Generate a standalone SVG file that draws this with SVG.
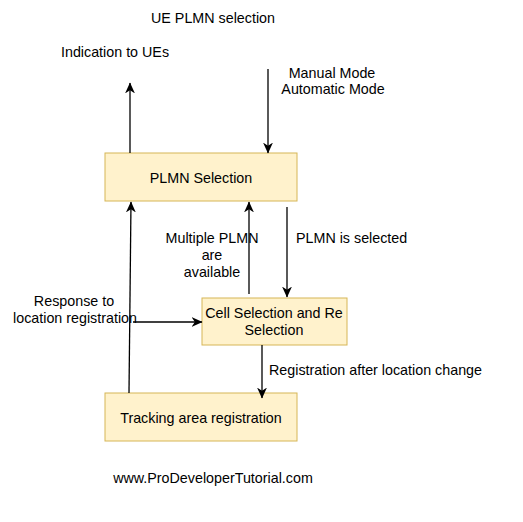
<svg xmlns="http://www.w3.org/2000/svg" width="523" height="522" viewBox="0 0 523 522">
<defs>
<style>
text{font-family:"Liberation Sans",Arial,sans-serif;font-size:14.3px;fill:#000}
.node rect{fill:#fff2cc;stroke:#d6b656;stroke-width:1}
.c line{stroke:#000;stroke-width:1.3;fill:none}
.m{text-anchor:middle}
</style>
<marker id="ah" viewBox="0 0 10 10" refX="9.5" refY="5" markerWidth="11" markerHeight="11" markerUnits="userSpaceOnUse" orient="auto">
<path d="M0,0.5 L10,5 L0,9.5 L3,5 Z" fill="#000"/>
</marker>
</defs>
<rect width="523" height="522" fill="#fff"/>
<g id="plmn-selection" class="node">
<rect x="105" y="153" width="192" height="48"/>
<text class="m" x="201" y="183">PLMN Selection</text>
</g>
<g id="cell-selection" class="node">
<rect x="202" y="298" width="145" height="47"/>
<text class="m" x="274" y="318">Cell Selection and Re</text>
<text class="m" x="274" y="335">Selection</text>
</g>
<g id="tracking-area" class="node">
<rect x="105" y="393" width="192" height="48"/>
<text class="m" x="201" y="423">Tracking area registration</text>
</g>
<g id="connectors" class="c">
<line x1="130" y1="153" x2="130" y2="83" marker-end="url(#ah)"/>
<line x1="268" y1="69" x2="268" y2="153" marker-end="url(#ah)"/>
<line x1="129" y1="393" x2="131" y2="202" marker-end="url(#ah)"/>
<line x1="249" y1="294" x2="249" y2="202" marker-end="url(#ah)"/>
<line x1="287" y1="207" x2="287" y2="297" marker-end="url(#ah)"/>
<line x1="133" y1="322" x2="202" y2="322" marker-end="url(#ah)"/>
<line x1="262" y1="345" x2="262" y2="398" marker-end="url(#ah)"/>
</g>
<g id="labels">
<text class="m" x="213" y="23">UE PLMN selection</text>
<text class="m" x="115" y="57">Indication to UEs</text>
<text class="m" x="332" y="78">Manual Mode</text>
<text class="m" x="333" y="94">Automatic Mode</text>
<text class="m" x="212" y="243">Multiple PLMN</text>
<text class="m" x="212" y="260">are</text>
<text class="m" x="212" y="277">available</text>
<text x="296" y="243">PLMN is selected</text>
<text class="m" x="74" y="306">Response to</text>
<text class="m" x="75" y="323">location registration</text>
<text x="269" y="375">Registration after location change</text>
<text class="m" x="213" y="483">www.ProDeveloperTutorial.com</text>
</g>
</svg>
